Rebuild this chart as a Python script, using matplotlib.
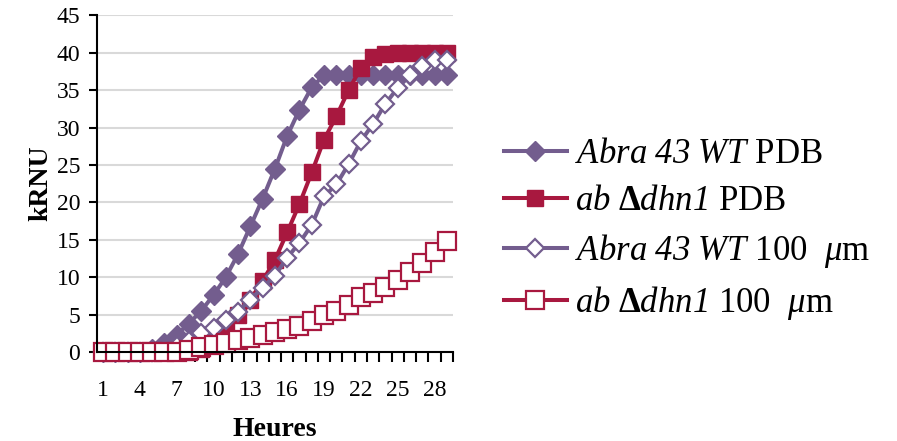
import numpy as np
import matplotlib.pyplot as plt
from matplotlib.ticker import MultipleLocator

plt.rcParams['font.family'] = ['Liberation Serif', 'DejaVu Serif']
plt.rcParams['mathtext.fontset'] = 'custom'
plt.rcParams['mathtext.rm'] = 'Liberation Serif'
plt.rcParams['mathtext.it'] = 'Liberation Serif:italic'
plt.rcParams['mathtext.sf'] = 'Liberation Serif:italic'
plt.rcParams['mathtext.bf'] = 'Liberation Serif:bold'

# hours 1..29
heures = np.arange(1, 30)
xtick_labels = [1, 4, 7, 10, 13, 16, 19, 22, 25, 28]

wt_pdb = [0, 0, 0, 0, 0.4, 1.2, 2.3, 3.8, 5.5, 7.6, 10.0, 13.1, 16.8, 20.5, 24.5,
          28.9, 32.4, 35.4, 37.0, 37.0, 37.0, 37.0, 37.0, 37.0, 37.0, 37.0, 37.0, 37.0, 37.0]
dhn_pdb = [0, 0, 0, 0, 0, 0, 0, 0, 0.4, 1.5, 3.0, 5.0, 7.0, 9.5, 12.3,
           16.0, 19.8, 24.0, 28.4, 31.5, 35.0, 38.0, 39.5, 39.8, 40.0, 40.0, 40.0, 40.0, 40.0]
wt_100 = [0, 0, 0, 0, 0, 0.3, 0.8, 1.5, 2.5, 3.2, 4.3, 5.4, 7.0, 8.6, 10.2,
          12.6, 14.6, 17.0, 20.8, 22.4, 25.1, 28.2, 30.5, 33.2, 35.3, 37.0, 38.3, 39.0, 39.1]
dhn_100 = [0, 0, 0, 0, 0, 0, 0, 0.2, 0.6, 0.9, 1.2, 1.6, 1.9, 2.3, 2.6,
           3.0, 3.4, 4.2, 5.0, 5.5, 6.3, 7.3, 7.9, 8.7, 9.6, 10.7, 11.9, 13.3, 14.9]

purple = '#735D8E'
red = '#A8183F'

fig = plt.figure(figsize=(8.97, 4.41), dpi=100)
ax = fig.add_axes([0.108, 0.202, 0.397, 0.763])

lw = 2.9
l1, = ax.plot(heures, wt_pdb, color=purple, lw=lw, marker='D', markersize=10,
              markerfacecolor=purple, markeredgecolor=purple)
l2, = ax.plot(heures, dhn_pdb, color=red, lw=lw, marker='s', markersize=11,
              markerfacecolor=red, markeredgecolor=red)
l3, = ax.plot(heures, wt_100, color=purple, lw=lw, marker='D', markersize=9.5,
              markerfacecolor='white', markeredgecolor=purple, markeredgewidth=1.6)
l4, = ax.plot(heures, dhn_100, color=red, lw=lw, marker='s', markersize=13,
              markerfacecolor='white', markeredgecolor=red, markeredgewidth=1.6)
for l in (l1, l2, l3, l4):
    l.set_clip_on(False)

ax.set_xlim(0.5, 29.5)
ax.set_ylim(0, 45)
ax.yaxis.set_major_locator(MultipleLocator(5))
ax.grid(axis='y', color='#D9D9D9', lw=1.5)
ax.set_axisbelow(True)
ax.set_xticks(xtick_labels)
ax.set_xticklabels([str(v) for v in xtick_labels])
ax.set_xticks(np.arange(0.5, 30, 1), minor=True)
ax.tick_params(axis='x', which='major', length=0, pad=20, labelsize=17)
ax.tick_params(axis='x', which='minor', length=7, width=1.5, direction='out')
ax.tick_params(axis='y', length=6, width=1.5, labelsize=17, pad=6)
for s in ('top', 'right'):
    ax.spines[s].set_visible(False)
ax.spines['left'].set_linewidth(1.5)
ax.spines['bottom'].set_linewidth(1.5)

ax.set_xlabel('Heures', fontsize=20, fontweight='bold', labelpad=12)
ax.set_ylabel('kRNU', fontsize=20, fontweight='bold', labelpad=2)

labels = [r'$\mathsf{Abra\ 43\ WT}$ PDB',
          r'$\mathsf{ab}\ \mathbf{\Delta}\mathsf{dhn1}$ PDB',
          r'$\mathsf{Abra\ 43\ WT}$ 100  $\mu$m',
          r'$\mathsf{ab}\ \mathbf{\Delta}\mathsf{dhn1}$ 100  $\mu$m']
fig.legend([l1, l2, l3, l4], labels, loc='center left', bbox_to_anchor=(0.535, 0.478),
           frameon=False, fontsize=25, handlelength=1.8, labelspacing=0.4,
           handletextpad=0.25, borderpad=0.2)

fig.savefig('out.png', dpi=100)
